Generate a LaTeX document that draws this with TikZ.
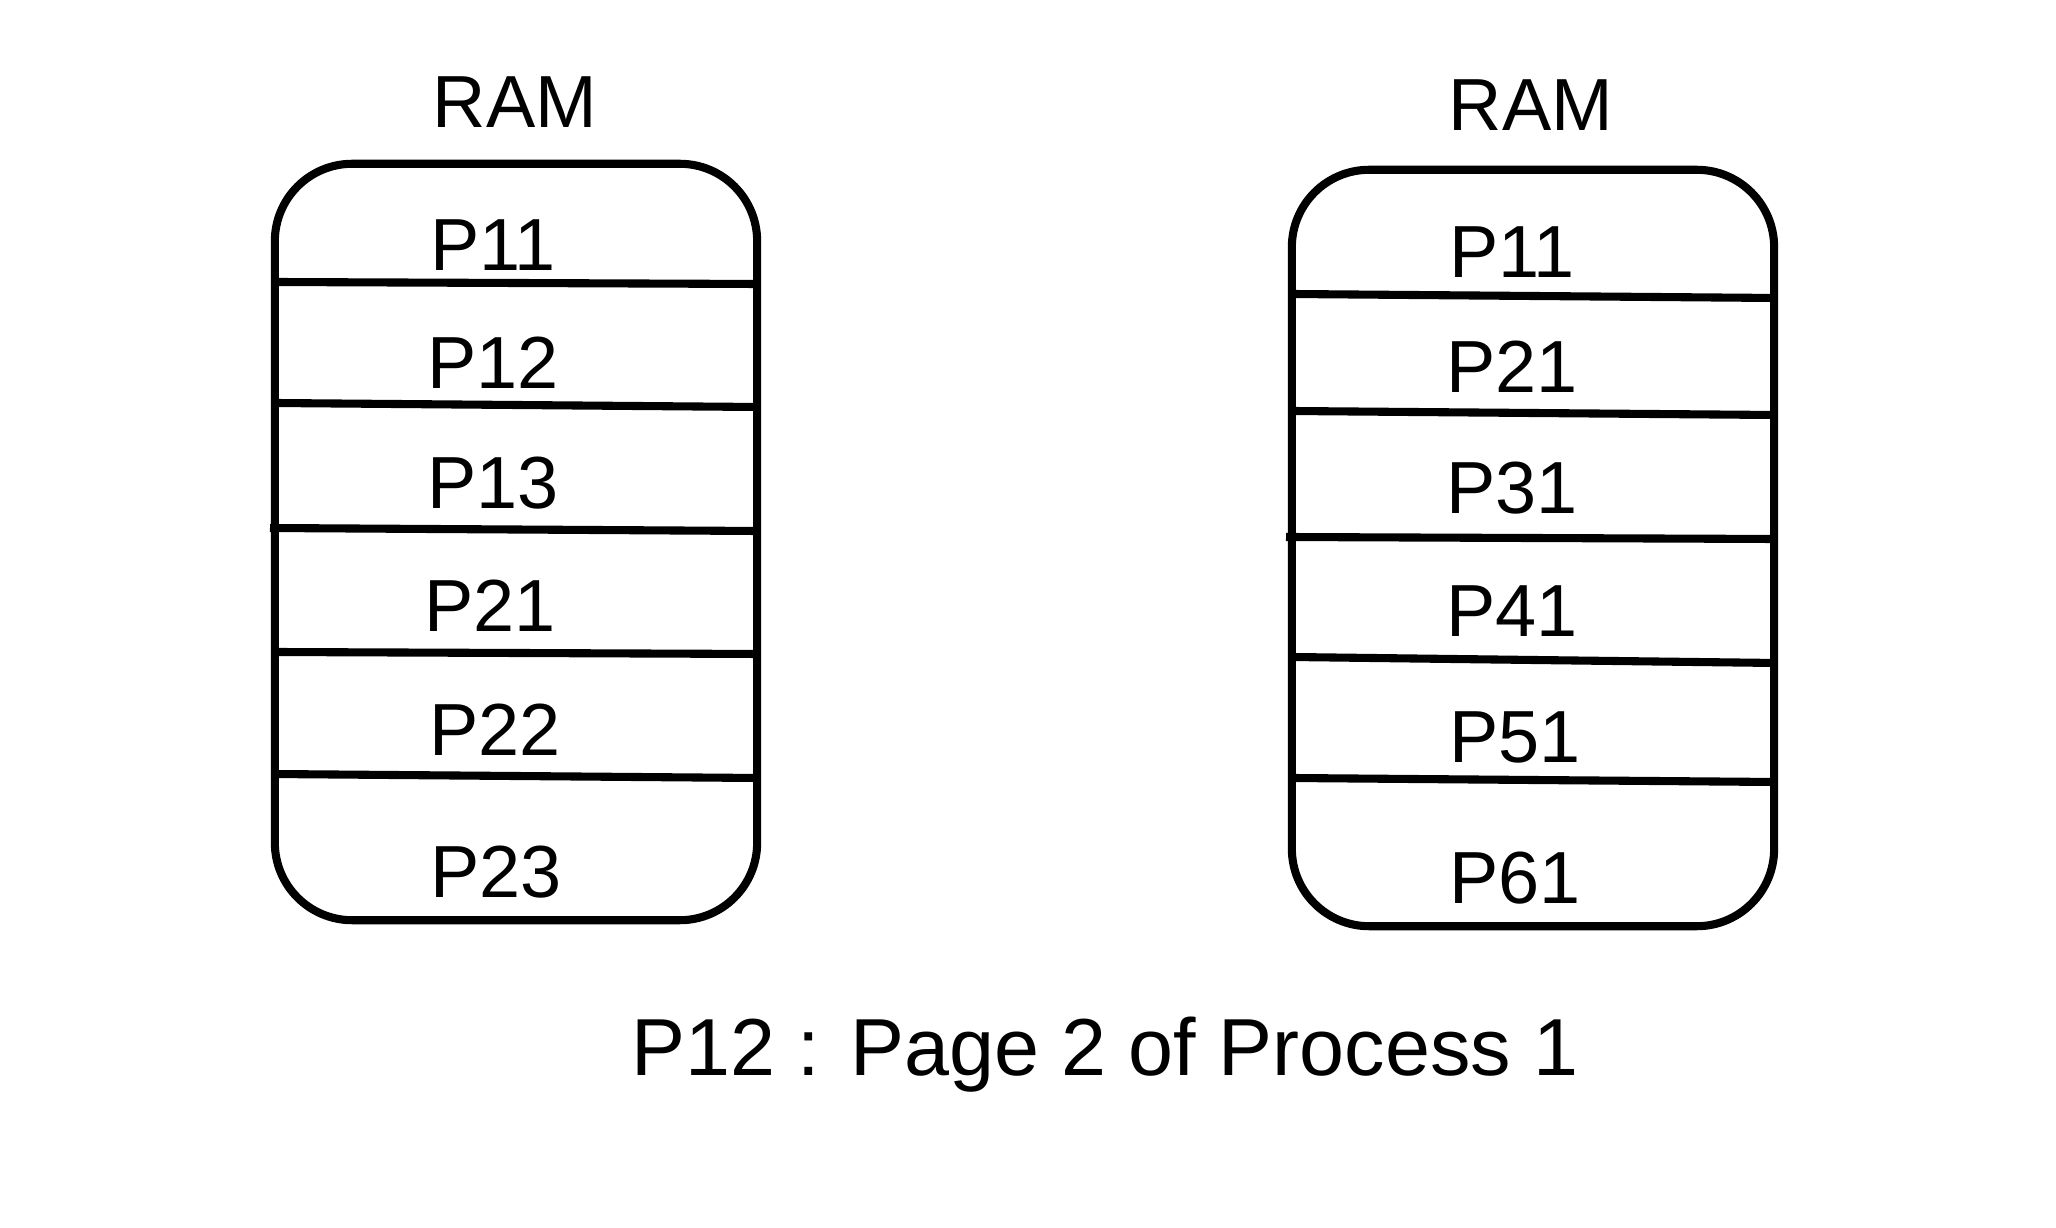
\documentclass[tikz,border=0pt]{standalone}
\usepackage{fontspec}
\setmainfont{Liberation Sans}
\tikzset{
  ram/.style={draw,line width=2.3pt,rounded corners=22pt,minimum width=4.82cm,minimum height=7.56cm,inner sep=0pt},
  page/.style={font=\fontsize{21}{24}\selectfont},
  title/.style={font=\fontsize{21}{24}\selectfont},
  divider/.style={line width=2.3pt}
}
\begin{document}
\begin{tikzpicture}[x=0.01cm,y=-0.01cm]
\useasboundingbox (0,0) rectangle (2056,1228);
% left memory
\node[title] (ramA) at (515,102) {RAM};
\node[ram] (boxA) at (516,542) {};
\draw[divider] (275,282) -- (757,284);
\draw[divider] (275,403) -- (757,407);
\draw[divider] (270,528) -- (757,531);
\draw[divider] (275,652) -- (760,654);
\draw[divider] (272,774) -- (757,778);
\node[page] (a1) at (493,245) {P11};
\node[page] (a2) at (493,363) {P12};
\node[page] (a3) at (493,483) {P13};
\node[page] (a4) at (490,606) {P21};
\node[page] (a5) at (495,730) {P22};
\node[page] (a6) at (496,872) {P23};
% right memory
\node[title] (ramB) at (1531,105) {RAM};
\node[ram] (boxB) at (1533,548) {};
\draw[divider] (1292,294) -- (1776,298);
\draw[divider] (1292,411) -- (1774,415);
\draw[divider] (1286,537) -- (1774,539);
\draw[divider] (1292,657) -- (1776,663);
\draw[divider] (1292,778) -- (1774,782);
\node[page] (b1) at (1512,252) {P11};
\node[page] (b2) at (1512,367) {P21};
\node[page] (b3) at (1512,488) {P31};
\node[page] (b4) at (1512,611) {P41};
\node[page] (b5) at (1515,737) {P51};
\node[page] (b6) at (1515,878) {P61};
% legend
\node[title,font=\fontsize{23}{26}\selectfont] (note) at (1105,1055) {P12 : Page 2 of Process 1};
\end{tikzpicture}
\end{document}
